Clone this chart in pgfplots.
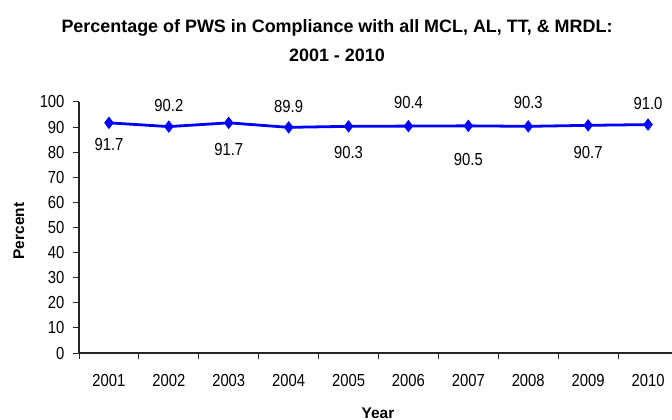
\documentclass[border=0pt]{standalone}
\usepackage{fontspec}
\setmainfont{Liberation Sans}
\newfontfamily\narrowfont{Liberation Sans}[FakeStretch=0.85]
\usepackage{pgfplots}
\pgfplotsset{compat=1.18}

\pgfplotstableread{
x  y     dy
0  91.7  -22
1  90.2  21
2  91.7  -27
3  89.9  21
4  90.3  -26
5  90.4  24
6  90.5  -34
7  90.3  24
8  90.7  -27
9  91.0  21
}\compliance

\begin{document}
\begin{tikzpicture}
\begin{axis}[
    at={(0,0)}, anchor=south west,
    scale only axis,
    width=593bp, height=251bp,
    xmin=-0.5, xmax=9.4,
    ymin=0, ymax=100,
    axis x line=bottom, axis y line=left,
    axis line style={-, line width=1.1pt, black!85},
    tick align=outside,
    major tick length=6bp,
    tick style={line width=1pt, black!85},
    xtick={-0.5,0.5,...,8.5},
    xticklabels={},
    extra x ticks={0,...,9},
    extra x tick labels={2001,2002,2003,2004,2005,2006,2007,2008,2009,2010},
    extra x tick style={major tick length=0pt, tick label style={yshift=-18bp}},
    ytick={0,10,...,100},
    yticklabel style={xshift=-5bp},
    /pgf/number format/assume math mode=true,
    tick label style={font=\narrowfont\fontsize{17.5}{19}\selectfont},
    clip=false,
]
\addplot[blue, line width=2.8pt, mark=diamond*, mark size=5.5bp,
    mark options={solid, fill=blue, line width=1pt},
    visualization depends on={\thisrow{dy} \as \labdy},
    nodes near coords={\pgfmathprintnumber[fixed,fixed zerofill,precision=1]{\pgfplotspointmeta}},
    every node near coord/.append style={anchor=center, yshift=\labdy*1bp, text=black, font=\narrowfont\fontsize{17.5}{19}\selectfont},
] table[x=x, y=y] {\compliance};
\end{axis}
\node[font=\bfseries\fontsize{18}{20}\selectfont] at (258bp,325bp) {Percentage of PWS in Compliance with all MCL, AL, TT, \& MRDL:};
\node[font=\bfseries\fontsize{18}{20}\selectfont] at (258bp,298bp) {2001 - 2010};
\node[font=\bfseries\fontsize{15.5}{17}\selectfont, rotate=90] at (-60bp,122bp) {Percent};
\node[font=\bfseries\fontsize{15.5}{17}\selectfont] at (299bp,-60bp) {Year};
\pgfresetboundingbox
\path (-79bp,-67bp) rectangle (593bp,353bp);
\end{tikzpicture}
\end{document}
